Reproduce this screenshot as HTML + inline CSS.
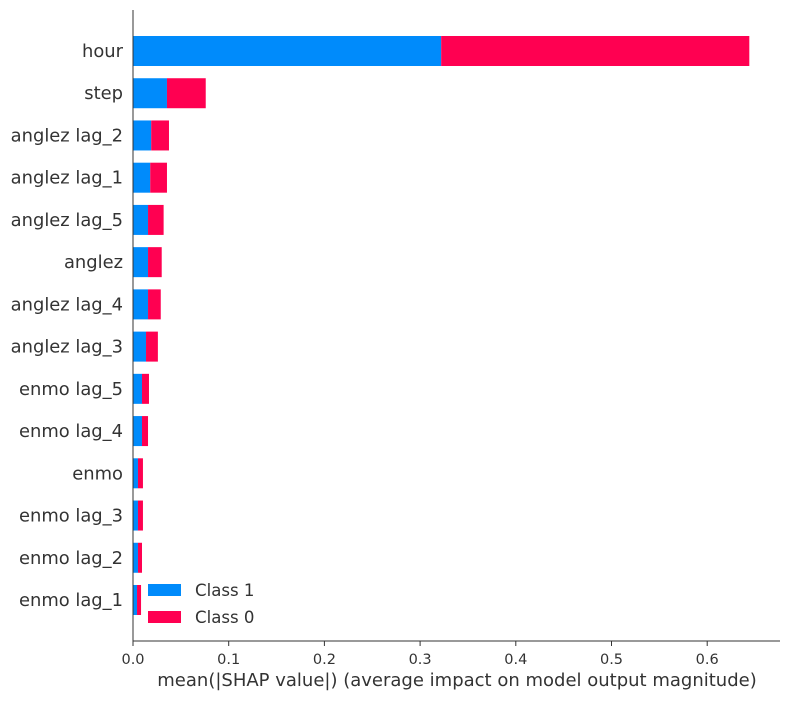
<!DOCTYPE html>
<html><head><meta charset="utf-8"><style>
body{margin:0;background:#fff;}
svg text{font-family:"DejaVu Sans","Liberation Sans",sans-serif;fill:#333;}
</style></head><body>
<svg id="chart" width="790" height="700"></svg>
<script>
const features=["hour","step","anglez lag_2","anglez lag_1","anglez lag_5","anglez","anglez lag_4","anglez lag_3","enmo lag_5","enmo lag_4","enmo","enmo lag_3","enmo lag_2","enmo lag_1"];
const class1=[0.322,0.0355,0.019,0.018,0.0157,0.0157,0.0157,0.0136,0.0094,0.0094,0.0052,0.0052,0.0052,0.0042];
const class0=[0.322,0.0405,0.0186,0.0175,0.0163,0.0143,0.0133,0.0124,0.0073,0.0063,0.0052,0.0052,0.0042,0.0042];
const xTicks=[0,0.1,0.2,0.3,0.4,0.5,0.6];
const xTickLabels=["0.0","0.1","0.2","0.3","0.4","0.5","0.6"];
const NS="http://www.w3.org/2000/svg";
const svg=document.getElementById('chart');
const x0=133,pxPer=957;
const X=v=>x0+v*pxPer;
const Y=i=>51+i*42.23;
function mk(t,a){const e=document.createElementNS(NS,t);for(const k in a)e.setAttribute(k,a[k]);svg.appendChild(e);return e;}
features.forEach((f,i)=>{
  const b1=mk('rect',{x:X(0),y:Y(i)-15,width:X(class1[i])-X(0),height:30,fill:'#008bfb'});
  
  
  const b0=mk('rect',{x:X(class1[i]),y:Y(i)-15,width:X(class1[i]+class0[i])-X(class1[i]),height:30,fill:'#ff0051'});
  
  
  const t=mk('text',{x:123,y:Y(i)+6,'text-anchor':'end','font-size':17.9});
  t.textContent=f;
  
  
});
const ls=mk('line',{x1:133,y1:10,x2:133,y2:641,stroke:'#333','stroke-width':1});


const bs=mk('line',{x1:133,y1:641,x2:780,y2:641,stroke:'#333','stroke-width':1});


xTicks.forEach((v,i)=>{
  const tk=mk('line',{x1:X(v),y1:641,x2:X(v),y2:646,stroke:'#333'});
  
  
  const tl=mk('text',{x:X(v),y:664,'text-anchor':'middle','font-size':14.5});
  tl.textContent=xTickLabels[i];
  
  
});
const xt=mk('text',{x:457,y:686,'text-anchor':'middle','font-size':18});
xt.textContent="mean(|SHAP value|) (average impact on model output magnitude)";


[["Class 1","#008bfb",590],["Class 0","#ff0051",617]].forEach(([l,c,y])=>{
  const r=mk('rect',{x:148,y:y-6,width:33,height:12,fill:c});
  
  
  const t=mk('text',{x:195,y:y+6,'font-size':16.6});
  t.textContent=l;
  
  
});
</script>
</body></html>
